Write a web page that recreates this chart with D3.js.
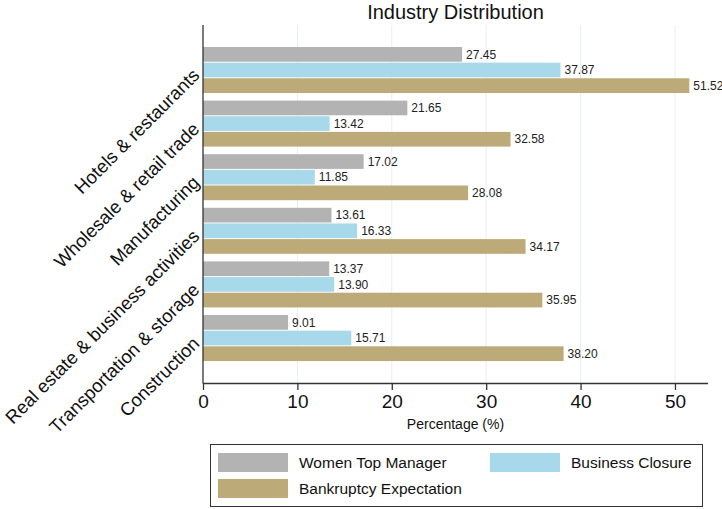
<!DOCTYPE html>
<html><head><meta charset="utf-8">
<script src="https://cdn.jsdelivr.net/npm/d3@7"></script>
<style>body{margin:0;background:#fff;} text{font-family:"Liberation Sans",Arial,Helvetica,sans-serif;}</style>
</head><body>
<svg id="c" width="722" height="509"></svg>
<script>
const categories = ["Hotels & restaurants","Wholesale & retail trade","Manufacturing","Real estate & business activities","Transportation & storage","Construction"];
const seriesNames = ["Women Top Manager","Business Closure","Bankruptcy Expectation"];
const womenTopManager = [27.45,21.65,17.02,13.61,13.37,9.01];
const businessClosure = [37.87,13.42,11.85,16.33,13.90,15.71];
const bankruptcyExpectation = [51.52,32.58,28.08,34.17,35.95,38.20];
const xTicks = [0,10,20,30,40,50];
const colors = ["#b3b3b3","#a8d9ea","#bcaa78"];

const seriesValues = [womenTopManager,businessClosure,bankruptcyExpectation];
const svg = d3.select("#c");
const L=203, R=708, T=25, B=383;

const x = d3.scaleLinear().domain([0,53.5]).range([L,R]);
const y = d3.scaleBand().domain(categories).range([T,B]).paddingInner(0.142).paddingOuter(0.41);
const y1 = d3.scaleBand().domain(seriesNames).range([0,y.bandwidth()]).paddingInner(0.06);

// grid
svg.append("g").selectAll("line").data(xTicks.filter(d=>d>0)).join("line")
  .attr("x1",d=>x(d)).attr("x2",d=>x(d)).attr("y1",T).attr("y2",B)
  .attr("stroke","#e6eff5").attr("stroke-width",1);

// title
svg.append("text").attr("x",(L+R)/2).attr("y",19).attr("text-anchor","middle")
  .attr("font-size",20).attr("fill","#111").text("Industry Distribution");

// bars
const g = svg.append("g");
categories.forEach((c,i)=>{
  seriesNames.forEach((s,j)=>{
    const v = seriesValues[j][i];
    const yy = y(c)+y1(s);
    g.append("rect").attr("x",x(0)).attr("y",yy).attr("width",x(v)-x(0)).attr("height",y1.bandwidth())
      .attr("fill",colors[j]);
    g.append("text").attr("x",x(v)+4).attr("y",yy+y1.bandwidth()/2).attr("dy","0.35em")
      .attr("font-size",12).attr("fill","#222").text(v.toFixed(2));
  });
});

// x axis
const xa = svg.append("g").attr("transform",`translate(0,${B})`)
  .call(d3.axisBottom(x).tickValues(xTicks).tickSize(7).tickPadding(5).tickFormat(d3.format("d")));
xa.select(".domain").attr("d",`M${L},0.5H${R}`).attr("stroke","#333").attr("stroke-width",1.3);
xa.selectAll(".tick line").attr("stroke","#333").attr("stroke-width",1.3);
xa.selectAll(".tick text").attr("font-size",19).attr("fill","#111").attr("font-family","Liberation Sans,Arial,sans-serif");

// y axis line
svg.append("line").attr("x1",L).attr("x2",L).attr("y1",T).attr("y2",B+0.5)
  .attr("stroke","#333").attr("stroke-width",1.3);

// category labels
svg.append("g").selectAll("text").data(categories).join("text")
  .attr("transform",d=>`translate(${L-7},${y(d)+y.bandwidth()/2+2}) rotate(-45)`)
  .attr("text-anchor","end").attr("dy","0.35em").attr("font-size",18.5).attr("fill","#111").text(d=>d);

// x label
svg.append("text").attr("x",(L+R)/2).attr("y",429).attr("text-anchor","middle")
  .attr("font-size",14).attr("fill","#111").text("Percentage (%)");

// legend
const lg = svg.append("g");
lg.append("rect").attr("x",210.5).attr("y",444.5).attr("width",492).attr("height",62)
  .attr("fill","#fff").attr("stroke","#333").attr("stroke-width",1);
const legPos = [[218,453],[490,453],[218,479]];
seriesNames.forEach((s,j)=>{
  const [lx,ly]=legPos[j];
  lg.append("rect").attr("x",lx).attr("y",ly).attr("width",70).attr("height",19).attr("fill",colors[j]);
  lg.append("text").attr("x",lx+81).attr("y",ly+10).attr("dy","0.35em")
    .attr("font-size",15.5).attr("fill","#111").text(s);
});
</script>
</body></html>
